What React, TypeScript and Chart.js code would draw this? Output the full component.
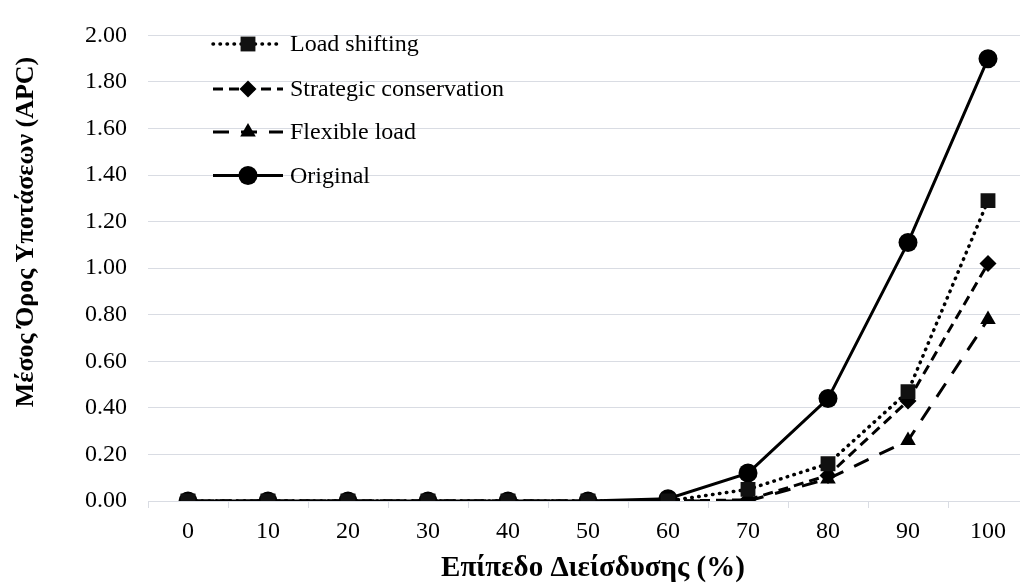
import React, { useEffect, useRef } from 'react';
import { Chart, registerables } from 'chart.js';

Chart.register(...registerables);

const categories = ['0', '10', '20', '30', '40', '50', '60', '70', '80', '90', '100'];
const loadShifting = [0, 0, 0, 0, 0, 0, 0, 0.05, 0.16, 0.47, 1.29];
const strategicConservation = [0, 0, 0, 0, 0, 0, 0, 0.005, 0.11, 0.43, 1.02];
const flexibleLoad = [0, 0, 0, 0, 0, 0, 0, 0, 0.095, 0.26, 0.78];
const original = [0, 0, 0, 0, 0, 0, 0.01, 0.12, 0.44, 1.11, 1.9];
const seriesNames = ['Load shifting', 'Strategic conservation', 'Flexible load', 'Original'];
const xTitle = 'Επίπεδο Διείσδυσης (%)';
const yTitle = 'Μέσος Όρος Υποτάσεων (APC)';

const FONT = '"Liberation Serif", "Times New Roman", serif';
const GRID = '#d9dce3';

function drawMarker(ctx: CanvasRenderingContext2D, style: string, r: number, x: number, y: number) {
  ctx.beginPath();
  if (style === 'circle') {
    ctx.arc(x, y, r, 0, Math.PI * 2);
  } else if (style === 'rect') {
    const s = Math.SQRT1_2 * r;
    ctx.rect(x - s, y - s, 2 * s, 2 * s);
  } else if (style === 'rectRot') {
    ctx.moveTo(x, y - r);
    ctx.lineTo(x + r, y);
    ctx.lineTo(x, y + r);
    ctx.lineTo(x - r, y);
    ctx.closePath();
  } else if (style === 'triangle') {
    ctx.moveTo(x, y - r);
    ctx.lineTo(x + Math.sin((2 * Math.PI) / 3) * r, y - Math.cos((2 * Math.PI) / 3) * r);
    ctx.lineTo(x + Math.sin((4 * Math.PI) / 3) * r, y - Math.cos((4 * Math.PI) / 3) * r);
    ctx.closePath();
  }
  ctx.fill();
}

const overlayPlugin = {
  id: 'overlay',
  afterDraw(chart: any) {
    const ctx: CanvasRenderingContext2D = chart.ctx;
    ctx.save();
    // legend
    const rows = [44, 89, 132, 175.5];
    chart.data.datasets.forEach((ds: any, i: number) => {
      const y = rows[i];
      ctx.save();
      ctx.strokeStyle = '#000';
      ctx.lineWidth = ds.borderWidth;
      ctx.lineCap = ds.borderCapStyle || 'butt';
      ctx.setLineDash(ds.borderDash || []);
      ctx.beginPath();
      ctx.moveTo(213, y);
      ctx.lineTo(283, y);
      ctx.stroke();
      ctx.setLineDash([]);
      ctx.fillStyle = ds.pointBackgroundColor;
      drawMarker(ctx, ds.pointStyle, ds.pointRadius, 248, y);
      ctx.restore();
      ctx.fillStyle = '#000';
      ctx.font = `24px ${FONT}`;
      ctx.textAlign = 'left';
      ctx.textBaseline = 'middle';
      ctx.fillText(ds.label, 290, y + 1);
    });
    // axis titles
    ctx.fillStyle = '#000';
    ctx.textAlign = 'center';
    ctx.textBaseline = 'alphabetic';
    ctx.font = `bold 29px ${FONT}`;
    ctx.fillText(xTitle, 593, 576);
    ctx.save();
    ctx.font = `bold 26px ${FONT}`;
    ctx.translate(33, 232);
    ctx.rotate(-Math.PI / 2);
    ctx.fillText(yTitle, 0, 0);
    ctx.restore();
    ctx.restore();
  },
};

export default function App() {
  const ref = useRef<HTMLCanvasElement>(null);
  useEffect(() => {
    if (!ref.current) return;
    const chart = new Chart(ref.current, {
      type: 'line',
      data: {
        labels: categories,
        datasets: [
          {
            label: seriesNames[0],
            data: loadShifting,
            borderColor: '#000',
            borderWidth: 3.5,
            borderDash: [0.5, 6.5],
            borderCapStyle: 'round',
            pointStyle: 'rect',
            pointRadius: 10.5,
            pointBackgroundColor: '#111',
            pointBorderColor: '#111',
            pointBorderWidth: 0,
            tension: 0,
          },
          {
            label: seriesNames[1],
            data: strategicConservation,
            borderColor: '#000',
            borderWidth: 3,
            borderDash: [10, 6],
            borderCapStyle: 'butt',
            pointStyle: 'rectRot',
            pointRadius: 8.5,
            pointBackgroundColor: '#000',
            pointBorderColor: '#000',
            pointBorderWidth: 0,
            tension: 0,
          },
          {
            label: seriesNames[2],
            data: flexibleLoad,
            borderColor: '#000',
            borderWidth: 3,
            borderDash: [16, 12],
            borderCapStyle: 'butt',
            pointStyle: 'triangle',
            pointRadius: 9,
            pointBackgroundColor: '#000',
            pointBorderColor: '#000',
            pointBorderWidth: 0,
            tension: 0,
          },
          {
            label: seriesNames[3],
            data: original,
            borderColor: '#000',
            borderWidth: 3,
            borderDash: [],
            borderCapStyle: 'butt',
            pointStyle: 'circle',
            pointRadius: 9.5,
            pointBackgroundColor: '#000',
            pointBorderColor: '#000',
            pointBorderWidth: 0,
            tension: 0,
          },
        ],
      },
      options: {
        animation: false,
        responsive: false,
        devicePixelRatio: 1,
        layout: { padding: { left: 0, top: 18, right: 12, bottom: 0 } },
        plugins: {
          legend: { display: false },
          tooltip: { enabled: false },
        },
        scales: {
          x: {
            type: 'category',
            offset: true,
            grid: {
              display: true,
              drawOnChartArea: false,
              drawTicks: true,
              tickLength: 7,
              offset: true,
              color: GRID,
              lineWidth: 1,
            },
            border: { display: true, color: GRID, width: 1 },
            ticks: {
              color: '#000',
              font: { family: FONT, size: 24 },
              padding: 9,
              maxRotation: 0,
              autoSkip: false,
            },
            afterFit: (s: any) => {
              s.height = 85;
            },
          },
          y: {
            min: 0,
            max: 2,
            grid: { color: GRID, lineWidth: 1, drawTicks: false },
            border: { display: false },
            ticks: {
              stepSize: 0.2,
              color: '#000',
              font: { family: FONT, size: 24 },
              padding: 21,
              callback: (v: any) => Number(v).toFixed(2),
            },
            afterFit: (s: any) => {
              s.width = 148;
            },
          },
        },
      },
      plugins: [overlayPlugin],
    } as any);
    return () => chart.destroy();
  }, []);
  return (
    <div
      style={{
        position: 'fixed',
        left: 0,
        top: 0,
        width: 1020,
        height: 586,
        overflow: 'hidden',
        background: '#fff',
      }}
    >
      <canvas ref={ref} width={1040} height={586} style={{ width: 1040, height: 586, display: 'block' }} />
    </div>
  );
}
